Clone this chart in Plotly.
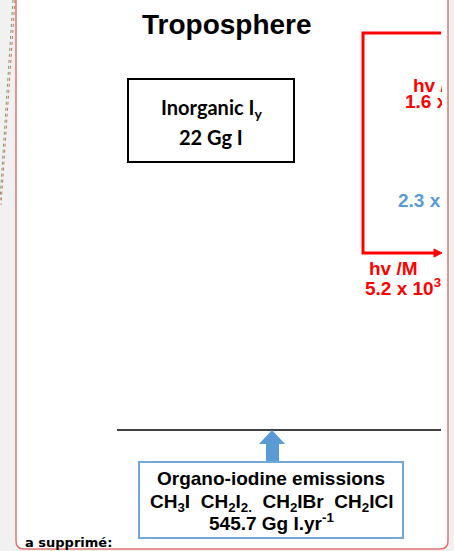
import plotly.graph_objects as go

# ---- content (text / values) ----
title_text = "Troposphere"
inorganic_lines = ["Inorganic I<sub>y</sub>", "22 Gg I"]
red_top_lines = ["hv /M", "1.6 x 10<sup>3</sup>"]
blue_mid_text = "2.3 x 10<sup>3</sup>"
red_bottom_lines = ["hv /M", "5.2 x 10<sup>3</sup>"]
emission_lines = [
    "Organo-iodine emissions",
    "CH<sub>3</sub>I\u00a0\u00a0CH<sub>2</sub>I<sub>2.</sub>\u00a0\u00a0CH<sub>2</sub>IBr\u00a0\u00a0CH<sub>2</sub>ICl",
    "545.7 Gg I.yr<sup>-1</sup>",
]
comment_text = "a supprimé:"

W, H = 454, 551
RED = "#ff0000"
BLUE = "#5b9bd5"
ARIAL = "Liberation Sans, Arial, sans-serif"

fig = go.Figure()
fig.add_trace(go.Scatter(x=[0, W], y=[0, H], mode="markers", marker=dict(opacity=0), hoverinfo="skip", showlegend=False))

shapes = []
# card with rounded corners
r = 8
x0, x1, y0, y1 = 16, 448, -10, 549
card = (f"M {x0} {y0} L {x1} {y0} L {x1} {y1-r} Q {x1} {y1} {x1-r} {y1} "
        f"L {x0+r} {y1} Q {x0} {y1} {x0} {y1-r} Z")
shapes.append(dict(type="path", path=card, fillcolor="white", line=dict(color="#e57373", width=1.5), layer="below"))
# dotted diagonal lines at the left
shapes.append(dict(type="line", x0=13, y0=0, x1=0, y1=200, line=dict(color="#6aa84f", width=1, dash="dot")))
shapes.append(dict(type="line", x0=15, y0=0, x1=1, y1=205, line=dict(color="#e06666", width=1, dash="dot")))
# inorganic box
shapes.append(dict(type="rect", x0=128, y0=79, x1=294, y1=162, line=dict(color="black", width=2)))
# red bracket
shapes.append(dict(type="path", path="M 441 33 L 363 33 L 363 253 L 436 253",
                   line=dict(color=RED, width=3)))
shapes.append(dict(type="path", path="M 434 249 L 442 253 L 434 257 Z", fillcolor=RED, line=dict(color=RED, width=1)))
# surface line
shapes.append(dict(type="line", x0=117, y0=430, x1=441, y1=430, line=dict(color="black", width=1.5)))
# blue arrow
shapes.append(dict(type="path",
                   path="M 266 463 L 266 444 L 259 444 L 272 430 L 285 444 L 279 444 L 279 463 Z",
                   fillcolor=BLUE, line=dict(width=0)))
# emissions box
shapes.append(dict(type="rect", x0=139, y0=462, x1=403, y1=538, line=dict(color="#6fa8dc", width=2)))

anns = []
anns.append(dict(x=227, y=24, text=f"<b>{title_text}</b>", font=dict(family=ARIAL, size=28, color="black")))
anns.append(dict(x=211, y=108, text=f"<b>{inorganic_lines[0]}</b>", font=dict(family="Lato", size=20, color="black")))
anns.append(dict(x=211, y=137, text=f"<b>{inorganic_lines[1]}</b>", font=dict(family="Lato", size=20, color="black")))
# texts clipped at the right edge
for txt, xl, yc, col in [(red_top_lines[0], 412, 85, RED), (red_top_lines[1], 404, 100, RED),
                         (blue_mid_text, 397, 199, BLUE)]:
    anns.append(dict(x=xl, y=yc, xanchor="left", align="left", width=441 - xl, borderpad=0,
                     text=f"<b>{txt}</b>", font=dict(family=ARIAL, size=19, color=col)))
anns.append(dict(x=367, y=268, xanchor="left", text=f"<b>{red_bottom_lines[0]}</b>", font=dict(family=ARIAL, size=19, color=RED)))
anns.append(dict(x=363, y=287, xanchor="left", text=f"<b>{red_bottom_lines[1]}</b>", font=dict(family=ARIAL, size=19, color=RED)))
for txt, yc in zip(emission_lines, [478, 503, 522]):
    anns.append(dict(x=271, y=yc, text=f"<b>{txt}</b>", font=dict(family=ARIAL, size=19, color="black")))
anns.append(dict(x=23, y=542, xanchor="left", text=f"<b>{comment_text}</b>", font=dict(family="DejaVu Sans", size=13, color="black")))

for a in anns:
    a.setdefault("xref", "x")
    a.setdefault("yref", "y")
    a.setdefault("showarrow", False)

fig.update_layout(
    width=W, height=H, margin=dict(l=0, r=0, t=0, b=0),
    paper_bgcolor="#f1f1f1", plot_bgcolor="rgba(0,0,0,0)",
    xaxis=dict(range=[0, W], visible=False, fixedrange=True),
    yaxis=dict(range=[H, 0], visible=False, fixedrange=True),
    shapes=shapes, annotations=anns, showlegend=False,
)
fig.write_html("out.html", config=dict(displayModeBar=False),
               post_script="document.body.style.margin='0';document.body.style.overflow='hidden';")
